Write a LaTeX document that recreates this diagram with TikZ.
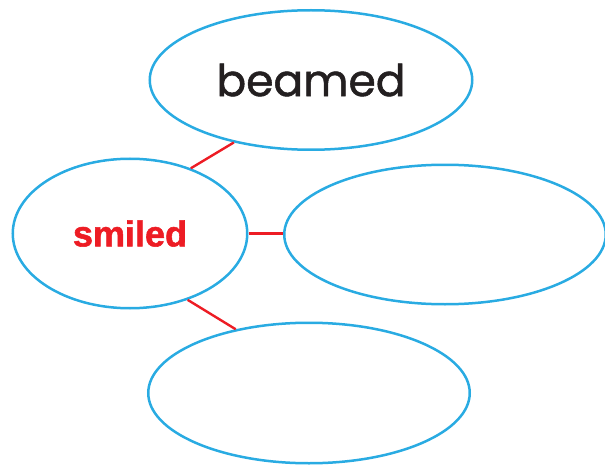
\documentclass[tikz,border=0pt]{standalone}
\usepackage{fontspec}
\usetikzlibrary{shapes.geometric}
\newfontfamily\handfont[FakeBold=1.2]{Poppins}
\newfontfamily\boldsans[FakeBold=1.5]{Liberation Sans Bold}
\definecolor{ovalblue}{HTML}{29ABE2}
\definecolor{linkred}{HTML}{ED1C24}
\definecolor{inkblack}{HTML}{231F20}
\begin{document}
\begin{tikzpicture}[x=1pt,y=-1pt,
  oval/.style={ellipse,draw=ovalblue,line width=2.5pt,inner sep=0pt},
  link/.style={draw=linkred,line width=2.4pt}]
\useasboundingbox (0,0) rectangle (605,468);
\node[oval,minimum width=322.5pt,minimum height=139.5pt] (top) at (311,80) {};
\node[oval,minimum width=234.5pt,minimum height=149.5pt] (left) at (130,233.5) {};
\node[oval,minimum width=321.5pt,minimum height=139.5pt] (right) at (445,234.5) {};
\node[oval,minimum width=321.5pt,minimum height=140.5pt] (bottom) at (309,393) {};
\node[text=inkblack,font=\handfont\fontsize{44}{48}\selectfont] (ttop) at (top.center) {beamed};
\node[text=linkred,font=\boldsans\fontsize{36}{40}\selectfont] (tleft) at (left.center) {smiled};
\draw[link] (left.47) -- (top.-141);
\draw[link] (left.east) -- (left.east -| right.west);
\draw[link] (left.-49) -- (bottom.139);
\end{tikzpicture}
\end{document}
